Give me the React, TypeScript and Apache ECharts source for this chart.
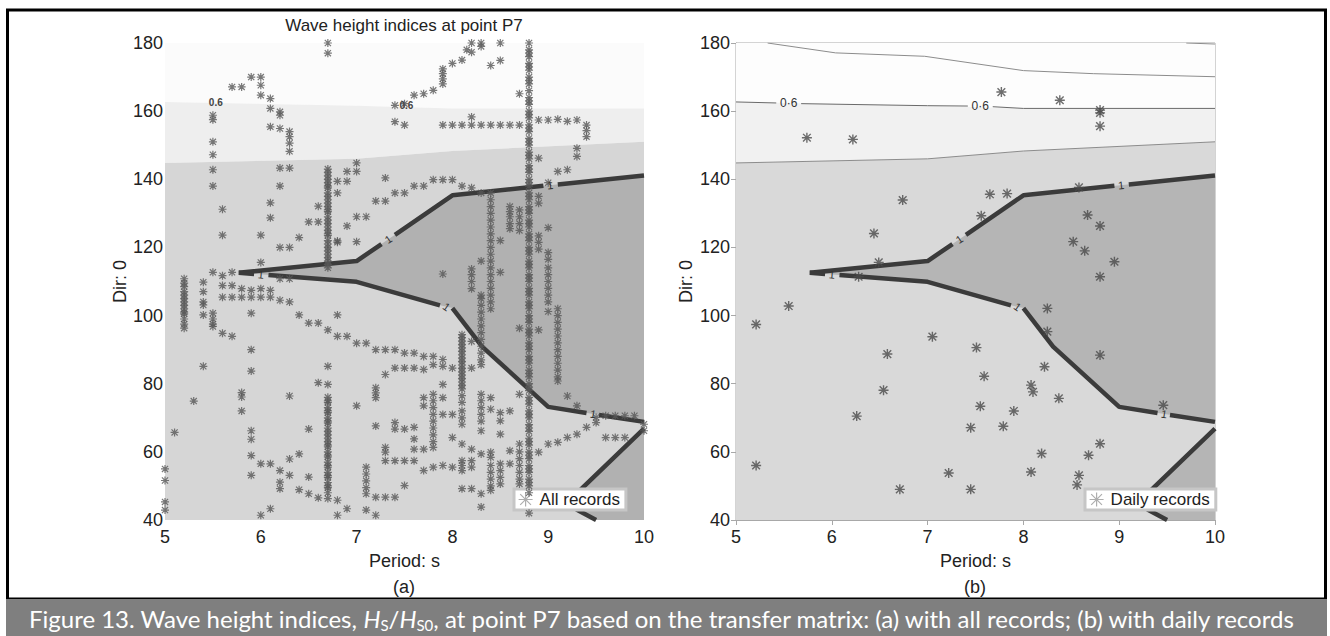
import React, { useEffect, useRef } from 'react';
import * as echarts from 'echarts';

const FONT = 'Liberation Sans, Arial, sans-serif';
const CAP_FONT = 'Lato';

// ---------- axes ----------
const xMin = 5, xMax = 10, xStep = 1;
const yMin = 40, yMax = 180, yStep = 20;

// ---------- shaded contour regions (Period, Dir) ----------
const topRegion = [[5, 180], [10, 180], [10, 160.8], [8, 160.8], [7, 161.6], [5, 162.7]];
const lightBand = [[5, 162.7], [7, 161.6], [8, 160.8], [10, 160.8], [10, 151], [8, 148.3], [7, 146], [5, 144.8]];
const mediumRegion = [[5, 144.8], [7, 146], [8, 148.3], [10, 151], [10, 40], [5, 40]];
const darkRegion = [[5.77, 112.6], [7, 116], [8, 135.3], [10, 141.1], [10, 68.8], [9, 73.2], [8.31, 90.9], [8, 102.2], [7.87, 103], [7, 109.9]];
const darkCorner = [[10, 66.8], [9.33, 48.7], [9.3, 43], [9.5, 40], [10, 40]];

// ---------- contour "1" (segments broken at labels) ----------
const contourUpper = [
  [[5.77, 112.6], [7, 116], [7.26, 121.0]],
  [[7.4, 123.7], [8, 135.3], [8.95, 138.1]],
  [[9.1, 138.5], [10, 141.1]],
];
const contourLower = [
  [[5.77, 112.6], [5.93, 112.2]],
  [[6.08, 111.9], [7, 109.9], [7.87, 103.0]],
  [[8.0, 102.2], [8.31, 90.9], [9, 73.2], [9.4, 71.4]],
  [[9.53, 70.8], [10, 68.8]],
];
const contourCorner = [[[10, 66.8], [9.33, 48.7], [9.3, 43], [9.5, 40]]];

// thin contour lines (panel b)
const thinTop = [[5.33, 180], [6.04, 177.1], [6.97, 176.1], [8.0, 171.9], [8.73, 171], [10, 170.1]];
const thinTopRight = [[9.7, 180], [10, 179.7]];
const thin06 = [
  [[5, 162.7], [5.42, 162.4]],
  [[5.68, 162.2], [7, 161.6], [7.42, 161.5]],
  [[7.68, 161.3], [8, 160.8], [10, 160.8]],
];
const thinLower = [[5, 144.8], [7, 146], [8, 148.3], [10, 151]];

// contour labels: [x, y, text, rotation deg]
const labelsOne = [
  [6.0, 112.05, '1', -5],
  [7.33, 122.4, '1', 34],
  [9.02, 138.3, '1', 6],
  [7.94, 102.6, '1', -35],
  [9.47, 71.1, '1', -9],
];
const labels06a = [
  [5.53, 162.6, '0.6', 0],
  [7.52, 161.8, '0.6', 0],
];
const labels06b = [
  [5.55, 162.3, '0·6', 0],
  [7.55, 161.4, '0·6', 0],
];

// ---------- records ----------
const allRecords = [
  [6.7, 180], [6.7, 177],
  [8.2, 180], [8.3, 180], [8.5, 180], [8.8, 180],
  [8.15, 178], [8.2, 177.3], [8.3, 179], [8.1, 175], [8.0, 174], [7.9, 172.4], [8.4, 173.4], [8.5, 174.9],
  [7.9, 171], [7.9, 169.5], [7.9, 168],
  [7.8, 166.1], [7.7, 165.1], [7.6, 164.7], [7.5, 162.2], [7.4, 161.7],
  [7.4, 156.9], [7.5, 155.9], [8.7, 165.1],
  [5.5, 158.8], [5.5, 157.5], [5.7, 167.1], [5.8, 167.1], [5.9, 170], [6.0, 170], [6.0, 167.6], [6.0, 164.7],
  [6.1, 163.7], [6.1, 160.8], [6.2, 159.8], [6.2, 158.8], [6.1, 155.4], [6.2, 154.9], [6.3, 154], [6.3, 152.5],
  [6.3, 150.6], [6.3, 148.2],
  [5.5, 151], [5.5, 147.2], [5.5, 142.8], [5.5, 138],
  [5.6, 131.2], [5.6, 123.6],
  [6.2, 143.3], [6.3, 143.3], [6.2, 138], [6.1, 133.1], [6.1, 128.7], [6.0, 123.6], [6.2, 120], [6.3, 120], [6.4, 122.9],
  [6.6, 132.1], [6.5, 127.5], [6.6, 127.5],
  [6.7, 143], [6.7, 141], [6.7, 139], [6.7, 137.5], [6.7, 136], [6.7, 134], [6.7, 132], [6.7, 130.5], [6.7, 129],
  [6.7, 127], [6.7, 125], [6.7, 123.5], [6.7, 122], [6.7, 120], [6.7, 118], [6.7, 116], [6.7, 114],
  [6.7, 142], [6.7, 140], [6.7, 138], [6.7, 135], [6.7, 133], [6.7, 131], [6.7, 128], [6.7, 126], [6.7, 124],
  [6.7, 121], [6.7, 119], [6.7, 117], [6.7, 115],
  [6.8, 121.9], [6.8, 139.4], [6.9, 139.4], [6.8, 136], [6.9, 142.3], [7.0, 142.3], [7.0, 144.8], [6.9, 126.3],
  [7.0, 129], [7.1, 129], [7.0, 121.7],
  [7.2, 133.6], [7.3, 133.6], [7.3, 140.4],
  [7.4, 136], [7.5, 136], [7.6, 138], [7.7, 138], [7.8, 139.9], [7.9, 139.9], [8.0, 139.9],
  [8.1, 138], [8.2, 137.5], [8.3, 136], [8.4, 136],
  [7.9, 155.9], [8.0, 155.9], [8.1, 155.9], [8.2, 155.9], [8.3, 155.9], [8.4, 155.9], [8.5, 155.9], [8.6, 155.9], [8.7, 155.9],
  [8.2, 158.3],
  [8.9, 157.4], [9.0, 157.4], [9.1, 157.6], [9.2, 157], [9.3, 157.4],
  [9.4, 155.9], [9.4, 154.3], [9.4, 152.5],
  [9.3, 149.1], [9.3, 146.7], [9.2, 142.8], [9.1, 142.3], [9.0, 139], [8.9, 146.2], [8.9, 135], [8.9, 133],
  [9.0, 125.8], [8.9, 123.4], [8.9, 121.5], [8.9, 119.5],
  [8.4, 134], [8.4, 132], [8.4, 130], [8.4, 128], [8.4, 126], [8.4, 124], [8.4, 122], [8.4, 120], [8.4, 118],
  [8.4, 116], [8.4, 114], [8.4, 112], [8.4, 110], [8.4, 108], [8.4, 106], [8.4, 104], [8.4, 102],
  [8.6, 132], [8.6, 130.5], [8.6, 129], [8.6, 127], [8.6, 125.5], [8.7, 131], [8.7, 129], [8.7, 127], [8.7, 125],
  [8.5, 122], [8.5, 112.7], [8.3, 116], [8.3, 106],
  [8.2, 113.7], [8.2, 112], [8.2, 110], [8.2, 107.9],
  [7.9, 112.2], [6.8, 121.5], [5.7, 112.7], [6.0, 115.6],
  [5.2, 110.8], [5.2, 108.5], [5.2, 106], [5.2, 104], [5.2, 102], [5.2, 100.5], [5.2, 99], [5.2, 97.5], [5.2, 96.3],
  [5.2, 109.5], [5.2, 107], [5.2, 105], [5.2, 103], [5.2, 101],
  [5.4, 109.8], [5.4, 107], [5.4, 104], [5.4, 103.1], [5.4, 100.2],
  [5.5, 100.7], [5.5, 99], [5.5, 97.5], [5.5, 96.8], [5.5, 112.7], [5.6, 111.7],
  [5.6, 105.4], [5.7, 105.4], [5.8, 105.4], [5.9, 105.4], [6.0, 105.4], [6.1, 105.4], [6.2, 104.5], [6.3, 104],
  [5.6, 108.8], [5.7, 108.8], [5.8, 107.9], [5.9, 107.4], [6.0, 107.9], [6.1, 107.4], [6.2, 110.8], [6.3, 110.8],
  [5.6, 94.8], [5.7, 93.9], [5.9, 100.7], [5.9, 90], [5.9, 83.7], [5.4, 85.1], [5.3, 74.9], [5.1, 65.7],
  [5.0, 55], [5.0, 51.6], [5.0, 45.3], [5.0, 42.9],
  [5.8, 77.4], [5.8, 76.1], [5.8, 72],
  [5.9, 66.2], [5.9, 63.7], [5.9, 58.9], [5.9, 53.1],
  [6.0, 56.5], [6.1, 56.5], [6.2, 54.5], [6.3, 53.1], [6.2, 51.1], [6.2, 49.2], [6.3, 57.9], [6.4, 59.4],
  [6.4, 48.9], [6.5, 47.7], [6.6, 46.5], [6.5, 52.6], [6.0, 41.4], [6.1, 43.3], [6.3, 76.4],
  [6.4, 100.2], [6.5, 97.8], [6.6, 97.8], [6.5, 66.7], [6.6, 80.3], [6.7, 79.8], [6.7, 85.1],
  [6.7, 76], [6.7, 74.5], [6.7, 73], [6.7, 71.5], [6.7, 70], [6.7, 68.5], [6.7, 67], [6.7, 65], [6.7, 63],
  [6.7, 61.5], [6.7, 60], [6.7, 58.5], [6.7, 57], [6.7, 55.5], [6.7, 54], [6.7, 52.5], [6.7, 51], [6.7, 49.5], [6.7, 48],
  [6.7, 75], [6.7, 72], [6.7, 69], [6.7, 66], [6.7, 64], [6.7, 62], [6.7, 59], [6.7, 56], [6.7, 53], [6.7, 50],
  [6.7, 95.8], [6.8, 93.9], [6.9, 93.9], [6.8, 100.2], [6.7, 46.3], [6.8, 45.8], [6.9, 43.3], [6.8, 41.4],
  [7.0, 73.5],
  [7.0, 91.9], [7.1, 91.9], [7.2, 90], [7.3, 90], [7.4, 90], [7.5, 89], [7.6, 89], [7.7, 88], [7.8, 88], [7.9, 87.1],
  [7.1, 55.5], [7.1, 53.5], [7.1, 51.5], [7.1, 49.5], [7.1, 47.7], [7.1, 42.9], [7.2, 41.4],
  [7.2, 78.8], [7.2, 77.3], [7.2, 75.9], [7.2, 67.6],
  [7.3, 82.7], [7.4, 84.6], [7.5, 84.6], [7.6, 84.6], [7.7, 84.2], [7.8, 85.6],
  [7.3, 61.3], [7.3, 59.9], [7.4, 68.6], [7.4, 66.7],
  [7.3, 57.4], [7.4, 57.4], [7.5, 57.4], [7.6, 57.4],
  [7.2, 46.7], [7.3, 46.7], [7.4, 46.7], [7.5, 50.1],
  [7.5, 66.7], [7.6, 67.2], [7.6, 63.8], [7.6, 60.8],
  [7.7, 75.9], [7.7, 73.5],
  [7.8, 76.9], [7.8, 75], [7.8, 73], [7.8, 71], [7.8, 69], [7.8, 67], [7.8, 65], [7.8, 63], [7.8, 61.3],
  [7.9, 85.1], [7.9, 79.8], [7.9, 75.9],
  [7.9, 71], [8.0, 71], [8.1, 72],
  [7.7, 60.8], [7.7, 54.5], [7.8, 55.5], [7.9, 56], [8.0, 55.5],
  [8.1, 94.4], [8.1, 92.5], [8.1, 90.5], [8.1, 88.5], [8.1, 86.5], [8.1, 84.5], [8.1, 82.5], [8.1, 80.5],
  [8.1, 78.5], [8.1, 76.5], [8.1, 74.5], [8.1, 70], [8.1, 68.1],
  [8.1, 93.5], [8.1, 91.5], [8.1, 89.5], [8.1, 87.5], [8.1, 85.5], [8.1, 83.5], [8.1, 81.5], [8.1, 79.5],
  [8.0, 84.6], [8.2, 92.4], [8.2, 84.6],
  [8.0, 64.2], [8.1, 62.3], [8.2, 60.8], [8.3, 59.4], [8.4, 59.9],
  [8.1, 57.4], [8.1, 56], [8.1, 54.5], [8.2, 57.4], [8.2, 55.5],
  [8.1, 49.2], [8.2, 49.2], [8.3, 47.7], [8.3, 43.8],
  [8.3, 76.9], [8.3, 75], [8.3, 73], [8.3, 71], [8.3, 69], [8.3, 66.2],
  [8.3, 105], [8.3, 103], [8.3, 101], [8.3, 99], [8.3, 97], [8.3, 95], [8.3, 93], [8.3, 91], [8.3, 89], [8.3, 87], [8.3, 85.6],
  [8.4, 75.9], [8.4, 72.5], [8.5, 71.5], [8.5, 69.1], [8.5, 65.2], [8.6, 72], [8.6, 60.3], [8.6, 56.5],
  [8.4, 58.4], [8.4, 56], [8.4, 54], [8.4, 52], [8.4, 50], [8.4, 48.7],
  [8.5, 56.5], [8.5, 54.5], [8.5, 52.5], [8.5, 50.6],
  [8.7, 76.9],
  [8.7, 62.3], [8.7, 60], [8.7, 58], [8.7, 56], [8.7, 54], [8.7, 52], [8.7, 50.6],
  [8.8, 178], [8.8, 176], [8.8, 174], [8.8, 172], [8.8, 170], [8.8, 168], [8.8, 166], [8.8, 164], [8.8, 162],
  [8.8, 160], [8.8, 158], [8.8, 156], [8.8, 154], [8.8, 152], [8.8, 150], [8.8, 148], [8.8, 146], [8.8, 144],
  [8.8, 142], [8.8, 140], [8.8, 138], [8.8, 136], [8.8, 134], [8.8, 132], [8.8, 130], [8.8, 128], [8.8, 126],
  [8.8, 124], [8.8, 122], [8.8, 120], [8.8, 118], [8.8, 116], [8.8, 114], [8.8, 112], [8.8, 110], [8.8, 108],
  [8.8, 106], [8.8, 104], [8.8, 102], [8.8, 100], [8.8, 98], [8.8, 96], [8.8, 94], [8.8, 92], [8.8, 90],
  [8.8, 88], [8.8, 86], [8.8, 84], [8.8, 82], [8.8, 80], [8.8, 78], [8.8, 76], [8.8, 74], [8.8, 72], [8.8, 70],
  [8.8, 68], [8.8, 66], [8.8, 64], [8.8, 62], [8.8, 60], [8.8, 58], [8.8, 56], [8.8, 54], [8.8, 52], [8.8, 50],
  [8.8, 48], [8.8, 42],
  [8.8, 177], [8.8, 173], [8.8, 169], [8.8, 163], [8.8, 159], [8.8, 155], [8.8, 151], [8.8, 147], [8.8, 143],
  [8.8, 139], [8.8, 135], [8.8, 131], [8.8, 127], [8.8, 123], [8.8, 119], [8.8, 115], [8.8, 111], [8.8, 107],
  [8.8, 103], [8.8, 99], [8.8, 95], [8.8, 91], [8.8, 87], [8.8, 83], [8.8, 79], [8.8, 75], [8.8, 71], [8.8, 67],
  [8.8, 63], [8.8, 59], [8.8, 55], [8.8, 51],
  [8.7, 96.3], [8.9, 95.8], [9.0, 101.2],
  [9.1, 102], [9.1, 100], [9.1, 98], [9.1, 96], [9.1, 94], [9.1, 92], [9.1, 90], [9.1, 88], [9.1, 86], [9.1, 84],
  [9.1, 82], [9.1, 80.8],
  [9.0, 118.5], [9.0, 116.5], [9.0, 114], [9.0, 112], [9.0, 110], [9.0, 108], [9.0, 106], [9.0, 104],
  [8.9, 59.9],
  [9.0, 62.3], [9.1, 62.8], [9.2, 64.2], [9.3, 65.2], [9.4, 67.2], [9.5, 68.6],
  [9.2, 76.4], [9.3, 73.5],
  [9.5, 70.1], [9.6, 70.6], [9.7, 70.6], [9.8, 70.6], [9.9, 70.6],
  [9.6, 64.2], [9.7, 64.2], [9.8, 64.2],
  [10, 68.1], [10, 66.2],
];

const dailyRecords = [
  [7.77, 165.6], [8.38, 163.2], [8.8, 160.3], [8.8, 159.5], [8.8, 155.6],
  [5.74, 152.2], [6.22, 151.7],
  [8.58, 137.6], [7.65, 135.6], [7.83, 135.8], [6.74, 133.9], [7.56, 129.3], [8.67, 129.5], [8.8, 126.3],
  [6.44, 124.1], [8.52, 121.7], [8.64, 119.0], [8.95, 115.8], [6.49, 115.6], [6.28, 111.4], [8.8, 111.4],
  [5.55, 102.8], [8.25, 102.1],
  [5.21, 97.4], [7.05, 93.8], [7.51, 90.6], [8.25, 95.3], [6.58, 88.7], [8.8, 88.4], [8.22, 85.0],
  [7.59, 82.2], [8.08, 79.6], [8.1, 77.6], [6.54, 78.1], [8.37, 75.7], [7.55, 73.4], [9.46, 73.7],
  [7.9, 72.0], [6.26, 70.5], [7.45, 67.1], [7.79, 67.5], [8.8, 62.4], [8.19, 59.5], [8.68, 59.0],
  [5.21, 56.0], [7.22, 53.8], [8.08, 54.1], [8.58, 53.1], [8.56, 50.3], [6.71, 49.0], [7.45, 49.0],
];

const regionColorsA = ['#fbfbfb', '#eeeeee', '#d6d6d6', '#b1b1b1', '#b1b1b1'];
const regionColorsB = ['#fdfdfd', '#f1f1f1', '#d9d9d9', '#b5b5b5', '#b5b5b5'];
const regionShapes = [topRegion, lightBand, mediumRegion, darkRegion, darkCorner];

const STAR = 'path://M0,0L10,10M10,0L0,10M5,-1.5L5,11.5M-1.5,5L11.5,5';

function polySeries(gi: number, colors: string[]) {
  return {
    type: 'custom', xAxisIndex: gi, yAxisIndex: gi, silent: true, z: 1, clip: false,
    data: regionShapes.map((r) => r[0]),
    renderItem: (params: any, api: any) => {
      const pts = regionShapes[params.dataIndex].map((p) => api.coord(p));
      return { type: 'polygon', shape: { points: pts }, style: { fill: colors[params.dataIndex], stroke: null } };
    },
  };
}

function segSeries(gi: number, segs: number[][][], color: string, width: number, z: number) {
  return segs.map((seg) => ({
    type: 'line', xAxisIndex: gi, yAxisIndex: gi, data: seg, symbol: 'none', silent: true, z,
    lineStyle: { color, width, cap: 'butt', join: 'round' },
  }));
}

function textSeries(gi: number, labels: any[], size: number, color: string, weight: string) {
  return {
    type: 'custom', xAxisIndex: gi, yAxisIndex: gi, silent: true, z: 6, clip: false,
    data: labels.map((l) => [l[0], l[1]]),
    renderItem: (params: any, api: any) => {
      const l = labels[params.dataIndex];
      const c = api.coord([l[0], l[1]]);
      return {
        type: 'text', x: c[0], y: c[1], rotation: (l[3] * Math.PI) / 180,
        style: { text: l[2], fontSize: size, fill: color, fontWeight: weight, fontFamily: FONT, align: 'center', verticalAlign: 'middle' },
      };
    },
  };
}

function xAxis(gi: number, frame: boolean) {
  return {
    type: 'value', gridIndex: gi, min: xMin, max: xMax, interval: xStep,
    name: 'Period: s', nameLocation: 'middle', nameGap: 32,
    nameTextStyle: { fontSize: 18, color: '#222', fontFamily: FONT },
    axisLine: { show: frame, onZero: false, lineStyle: { color: '#a8a8a8', width: 1 } },
    axisTick: { show: frame, length: 5, lineStyle: { color: '#a8a8a8' } },
    axisLabel: { fontSize: 18, color: '#222', margin: 8, fontFamily: FONT },
    splitLine: { show: false },
  };
}
function yAxis(gi: number, frame: boolean, gap: number, margin: number) {
  return {
    type: 'value', gridIndex: gi, min: yMin, max: yMax, interval: yStep,
    name: 'Dir: 0', nameLocation: 'middle', nameGap: gap, nameRotate: 90,
    nameTextStyle: { fontSize: 18, color: '#222', fontFamily: FONT },
    axisLine: { show: frame, onZero: false, lineStyle: { color: '#a8a8a8', width: 1 } },
    axisTick: { show: frame, length: 5, lineStyle: { color: '#a8a8a8' } },
    axisLabel: { fontSize: 18, color: '#222', margin, fontFamily: FONT },
    splitLine: { show: false },
  };
}

function legendOf(name: string, left: number) {
  return {
    data: [name], left, top: 489, orient: 'horizontal', selectedMode: false,
    backgroundColor: '#ffffff', borderColor: '#c6c6c6', borderWidth: 3, borderRadius: 0,
    padding: [2, 6, 2, 4], itemWidth: 14, itemHeight: 14, itemGap: 4,
    itemStyle: { color: 'rgba(0,0,0,0)', borderColor: '#9a9a9a', borderWidth: 1.2 },
    textStyle: { fontSize: 17, color: '#222', fontFamily: FONT, padding: [0, 0, 0, 2] },
  };
}

export default function App() {
  const ref = useRef<HTMLDivElement>(null);
  useEffect(() => {
    const chart = echarts.init(ref.current!, undefined, { renderer: 'svg' });
    const option: any = {
      animation: false,
      backgroundColor: '#ffffff',
      grid: [
        { left: 165, top: 43, width: 479, height: 477, show: false, containLabel: false, outerBoundsMode: 'none' },
        { left: 736, top: 43, width: 479, height: 477, show: true, borderColor: '#a8a8a8', borderWidth: 1, backgroundColor: 'transparent', containLabel: false, outerBoundsMode: 'none' },
      ],
      xAxis: [xAxis(0, false), xAxis(1, true)],
      yAxis: [yAxis(0, false, 35, 2), yAxis(1, true, 41, 6)],
      legend: [legendOf('All records', 514), legendOf('Daily records', 1085)],
      series: [
        polySeries(0, regionColorsA),
        polySeries(1, regionColorsB),
        ...segSeries(1, [thinTop, thinTopRight, thinLower], '#8c8c8c', 1, 2),
        ...segSeries(1, thin06, '#6a6a6a', 1, 2),
        ...segSeries(0, contourUpper, '#3b3b3b', 4.5, 3),
        ...segSeries(0, contourLower, '#3b3b3b', 4.5, 3),
        ...segSeries(0, contourCorner, '#3b3b3b', 4.5, 3),
        ...segSeries(1, contourUpper, '#3b3b3b', 4.5, 3),
        ...segSeries(1, contourLower, '#3b3b3b', 4.5, 3),
        ...segSeries(1, contourCorner, '#3b3b3b', 4.5, 3),
        textSeries(0, labelsOne, 11, '#333', 'normal'),
        textSeries(1, labelsOne, 11, '#333', 'normal'),
        textSeries(0, labels06a, 10, '#444', 'bold'),
        textSeries(1, labels06b, 12, '#333', 'normal'),
        {
          name: 'All records', type: 'scatter', xAxisIndex: 0, yAxisIndex: 0, data: allRecords, z: 5,
          symbol: STAR, symbolSize: 8, silent: true,
          itemStyle: { color: 'rgba(0,0,0,0)', borderColor: '#575757', borderWidth: 1.2 },
        },
        {
          name: 'Daily records', type: 'scatter', xAxisIndex: 1, yAxisIndex: 1, data: dailyRecords, z: 5,
          symbol: STAR, symbolSize: 10, silent: true,
          itemStyle: { color: 'rgba(0,0,0,0)', borderColor: '#4a4a4a', borderWidth: 1.4 },
        },
      ],
      graphic: [
        { type: 'rect', z: 100, silent: true, shape: { x: 7.5, y: 10, width: 1318, height: 589 }, style: { fill: 'none', stroke: '#000', lineWidth: 3 } },
        { type: 'rect', z: 101, silent: true, shape: { x: 6, y: 599, width: 1321, height: 37 }, style: { fill: '#7f7f7f' } },
        { type: 'text', z: 102, x: 404, y: 25, style: { text: 'Wave height indices at point P7', fontSize: 17, fill: '#222', fontFamily: FONT, align: 'center', verticalAlign: 'middle' } },
        { type: 'text', z: 102, x: 404, y: 587, style: { text: '(a)', fontSize: 18, fill: '#222', fontFamily: FONT, align: 'center', verticalAlign: 'middle' } },
        { type: 'text', z: 102, x: 975, y: 587, style: { text: '(b)', fontSize: 18, fill: '#222', fontFamily: FONT, align: 'center', verticalAlign: 'middle' } },
        {
          type: 'text', z: 102, x: 29, y: 618,
          style: {
            text: '{n|Figure 13. Wave height indices, }{i|H}{s|S}{n|/}{i|H}{s|S0}{n|, at point P7 based on the transfer matrix: (a) with all records; (b) with daily records}',
            fill: '#ffffff', fontSize: 24, fontFamily: CAP_FONT, verticalAlign: 'middle', align: 'left',
            rich: {
              n: { fontSize: 24, fontFamily: CAP_FONT, fill: '#ffffff', lineHeight: 28 },
              i: { fontSize: 24, fontFamily: CAP_FONT, fill: '#ffffff', fontStyle: 'italic', lineHeight: 28 },
              s: { fontSize: 15, fontFamily: CAP_FONT, fill: '#ffffff', verticalAlign: 'bottom' },
            },
          },
        },
      ],
    };
    chart.setOption(option);
    return () => chart.dispose();
  }, []);
  return <div ref={ref} style={{ position: 'fixed', left: 0, top: 0, width: 1330, height: 636, background: '#fff' }} />;
}
